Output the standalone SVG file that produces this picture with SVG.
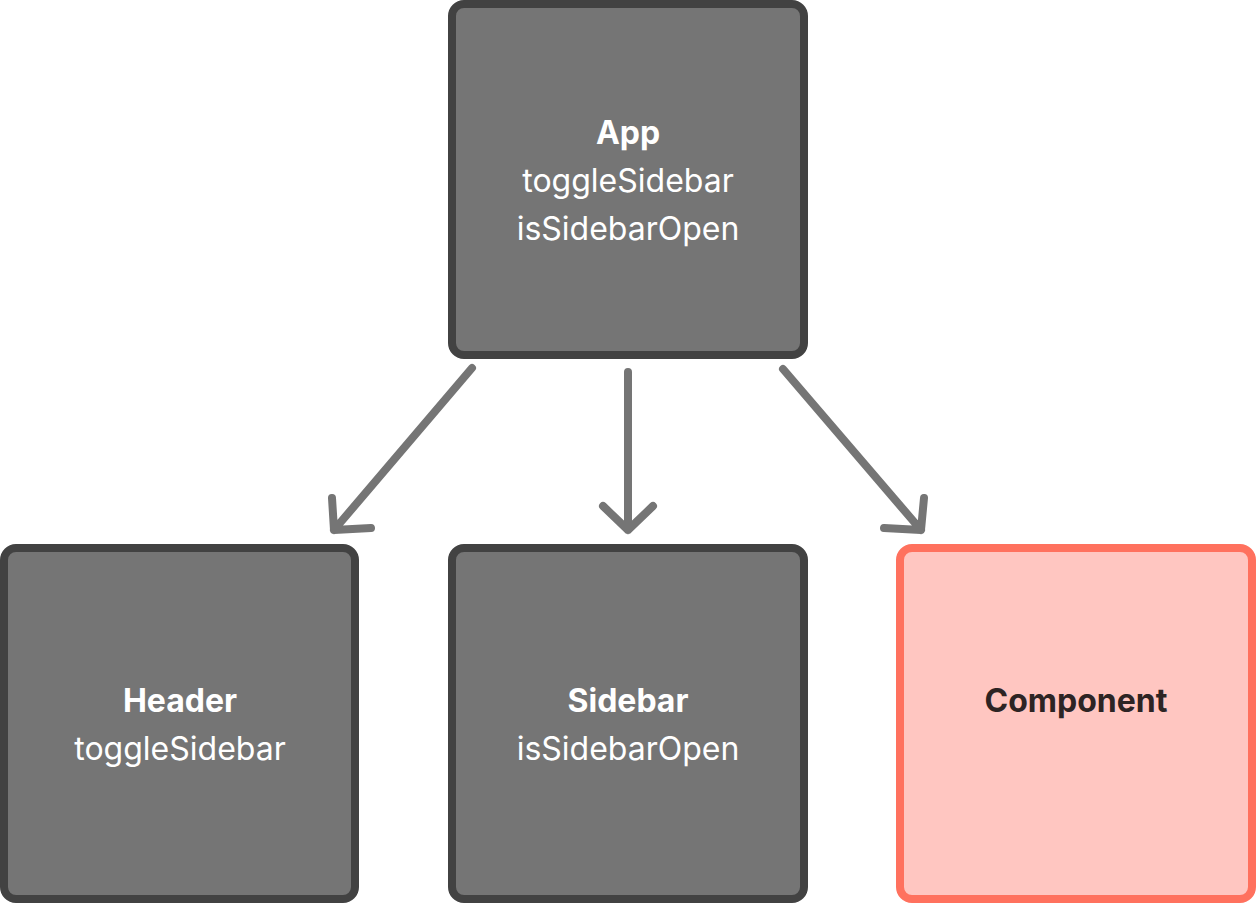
<svg xmlns="http://www.w3.org/2000/svg" width="1256" height="904" viewBox="0 0 1256 904">
<style>
.box{fill:#757575;stroke:#424242;stroke-width:8}
.hl{fill:#ffc6c1;stroke:#ff715e;stroke-width:8}
.t{font-family:Inter,"Noto Sans",sans-serif;font-size:32px;text-anchor:middle;fill:#ffffff}
.b{font-weight:700}
.dk{fill:#2d2424}
.c{fill:none;stroke:#757575;stroke-width:8;stroke-linecap:round;stroke-linejoin:round}
</style>
<rect width="1256" height="904" fill="#ffffff"/>
<g id="connectors">
<path class="c" d="M472 368 L334 530 M332 498 L334 530 L371 528"/>
<path class="c" d="M628 372 L628 530 M603 506 L628 530 L653 506"/>
<path class="c" d="M783 369 L921 530 M924 498 L921 530 L884 528"/>
</g>
<g id="app">
<rect class="box" x="452" y="4" width="352" height="351" rx="12"/>
<text class="t b" x="628" y="144">App</text>
<text class="t" x="628" y="192">toggleSidebar</text>
<text class="t" x="628" y="240">isSidebarOpen</text>
</g>
<g id="header">
<rect class="box" x="4" y="548" width="351" height="351" rx="12"/>
<text class="t b" x="180" y="712">Header</text>
<text class="t" x="180" y="760">toggleSidebar</text>
</g>
<g id="sidebar">
<rect class="box" x="452" y="548" width="352" height="351" rx="12"/>
<text class="t b" x="628" y="712">Sidebar</text>
<text class="t" x="628" y="760">isSidebarOpen</text>
</g>
<g id="component">
<rect class="hl" x="900" y="548" width="352" height="351" rx="12"/>
<text class="t b dk" x="1076" y="712">Component</text>
</g>
</svg>
